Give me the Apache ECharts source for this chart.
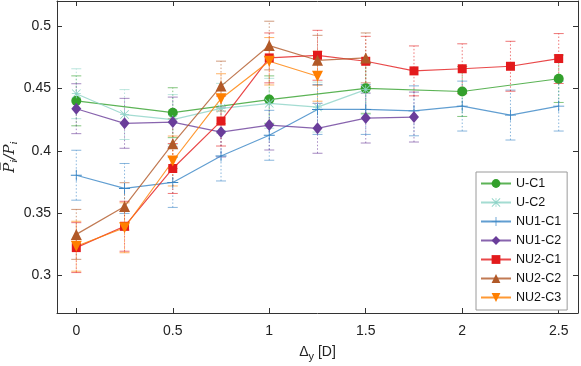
<!DOCTYPE html>
<html>
<head>
<meta charset="utf-8">
<script src="https://cdn.jsdelivr.net/npm/echarts@6/dist/echarts.min.js"></script>
<style>
  html, body { margin: 0; padding: 0; background: #fff; }
  #main { width: 581px; height: 366px; }
</style>
</head>
<body>
<div id="main"></div>
<script>
// x positions (Delta_y [D]) and mean values per configuration
const xU1 = [0, 0.5, 1, 1.5, 2, 2.5];
const yU1 = [0.440, 0.4305, 0.441, 0.450, 0.4475, 0.4577];
const eU1 = [0.02, 0.02, 0.019, 0.02, 0.02, 0.019];

const xU2 = [0, 0.25, 0.5, 0.75, 1, 1.25, 1.5];
const yU2 = [0.4457, 0.429, 0.425, 0.434, 0.438, 0.435, 0.449];
const eU2 = [0.02, 0.02, 0.02, 0.02, 0.02, 0.02, 0.02];

const xNU1C1 = [0, 0.25, 0.5, 0.75, 1, 1.25, 1.5, 1.75, 2, 2.25, 2.5];
const yNU1C1 = [0.3804, 0.3698, 0.3746, 0.3958, 0.4124, 0.4331, 0.4331, 0.432, 0.4358, 0.4286, 0.4358];
const eNU1C1 = [0.02, 0.02, 0.02, 0.02, 0.02, 0.02, 0.02, 0.02, 0.02, 0.02, 0.02];

const xNU1C2 = [0, 0.25, 0.5, 0.75, 1, 1.25, 1.5, 1.75];
const yNU1C2 = [0.4337, 0.422, 0.423, 0.415, 0.4206, 0.418, 0.4262, 0.427];
const eNU1C2 = [0.02, 0.02, 0.02, 0.02, 0.02, 0.02, 0.02, 0.02];

const xNU2C1 = [0, 0.25, 0.5, 0.75, 1, 1.25, 1.5, 1.75, 2, 2.25, 2.5];
const yNU2C1 = [0.3224, 0.3395, 0.3858, 0.4238, 0.4744, 0.4765, 0.4717, 0.464, 0.4657, 0.4677, 0.4739];
const eNU2C1 = [0.02, 0.02, 0.02, 0.02, 0.02, 0.02, 0.02, 0.02, 0.02, 0.02, 0.02];

const xNU2C2 = [0, 0.25, 0.5, 0.75, 1, 1.25, 1.5];
const yNU2C2 = [0.333, 0.3554, 0.4057, 0.4518, 0.4843, 0.4725, 0.4744];
const eNU2C2 = [0.02, 0.019, 0.02, 0.02, 0.0195, 0.02, 0.02];

const xNU2C3 = [0, 0.25, 0.5, 0.75, 1, 1.25];
const yNU2C3 = [0.3235, 0.3383, 0.3918, 0.4417, 0.4717, 0.4597];
const eNU2C3 = [0.02, 0.02, 0.02, 0.02, 0.019, 0.02];

const xTicks = [0, 0.5, 1, 1.5, 2, 2.5];
const yTicks = [0.3, 0.35, 0.4, 0.45, 0.5];

const plusPath = 'path://M4.6,0h0.8v10h-0.8zM0,4.6h10v0.8h-10z';
const starPath = 'path://M4.6,0h0.8v10h-0.8zM0,4.6h10v0.8h-10zM0.6,0L10,9.4L9.4,10L0,0.6zM9.4,0L10,0.6L0.6,10L0,9.4z';

const defs = [
  { name: 'U-C1', x: xU1, y: yU1, e: eU1, color: '#33a02c', symbol: 'circle', size: 10 },
  { name: 'U-C2', x: xU2, y: yU2, e: eU2, color: '#8dd3c7', symbol: starPath, size: 9 },
  { name: 'NU1-C1', x: xNU1C1, y: yNU1C1, e: eNU1C1, color: '#3a86c6', symbol: plusPath, size: 11 },
  { name: 'NU1-C2', x: xNU1C2, y: yNU1C2, e: eNU1C2, color: '#6a3d9a', symbol: 'diamond', size: [10, 12] },
  { name: 'NU2-C1', x: xNU2C1, y: yNU2C1, e: eNU2C1, color: '#e31a1c', symbol: 'rect', size: 9 },
  { name: 'NU2-C2', x: xNU2C2, y: yNU2C2, e: eNU2C2, color: '#b15928', symbol: 'triangle', size: 11 },
  { name: 'NU2-C3', x: xNU2C3, y: yNU2C3, e: eNU2C3, color: '#ff7f00', symbol: 'triangle', size: 11, rotate: 180 }
];

var series = [];
defs.forEach(function (d) {
  series.push({
    type: 'custom',
    z: 1,
    silent: true,
    data: d.x.map(function (v, i) { return [v, d.y[i], d.e[i]]; }),
    renderItem: function (params, api) {
      var x = api.value(0), y = api.value(1), e = api.value(2);
      var lo = api.coord([x, y - e]);
      var hi = api.coord([x, y + e]);
      var st = { stroke: d.color, lineWidth: 1, opacity: 0.6 };
      return {
        type: 'group',
        children: [
          { type: 'line', shape: { x1: lo[0], y1: lo[1], x2: hi[0], y2: hi[1] },
            style: Object.assign({ lineDash: [1.5, 2] }, st) },
          { type: 'line', shape: { x1: lo[0] - 5, y1: lo[1], x2: lo[0] + 5, y2: lo[1] }, style: st },
          { type: 'line', shape: { x1: hi[0] - 5, y1: hi[1], x2: hi[0] + 5, y2: hi[1] }, style: st }
        ]
      };
    }
  });
  series.push({
    name: d.name,
    type: 'line',
    z: 3,
    data: d.x.map(function (v, i) { return [v, d.y[i]]; }),
    symbol: d.symbol,
    symbolSize: d.size,
    symbolRotate: d.rotate || 0,
    showAllSymbol: true,
    color: d.color,
    itemStyle: { color: d.color, opacity: 1 },
    lineStyle: { color: d.color, width: 1.2, opacity: 0.8 },
    emphasis: { disabled: true }
  });
});

var axisCol = '#333';
var myChart = echarts.init(document.getElementById('main'));
var option = {
  animation: false,
  textStyle: { fontFamily: 'Liberation Sans, Arial, sans-serif' },
  grid: { left: 57, right: 3, top: 1, bottom: 53, outerBoundsMode: 'none', containLabel: false },
  legend: {
    data: defs.map(function (d) { return d.name; }),
    orient: 'vertical',
    left: 476,
    top: 172,
    padding: [5, 6, 6, 4],
    itemWidth: 30,
    itemHeight: 11,
    itemGap: 6,
    backgroundColor: '#fff',
    borderColor: '#9a9a9a',
    borderWidth: 1,
    textStyle: { fontSize: 12.5, color: '#111', fontFamily: 'Liberation Sans, Arial, sans-serif' }
  },
  xAxis: [
    {
      type: 'value', min: -0.1, max: 2.6, position: 'bottom',
      name: '{d|Δ}{s|y}{d| [D]}',
      nameLocation: 'middle', nameGap: 30,
      nameTextStyle: {
        rich: {
          d: { fontSize: 14, color: '#222', fontFamily: 'Liberation Sans, Arial, sans-serif' },
          s: { fontSize: 11, color: '#222', verticalAlign: 'bottom', padding: [8, 0, 0, 0], fontFamily: 'Liberation Sans, Arial, sans-serif' }
        }
      },
      axisLine: { onZero: false, lineStyle: { color: axisCol, width: 1 } },
      axisTick: { inside: true, length: 5, customValues: xTicks, lineStyle: { color: axisCol } },
      axisLabel: { customValues: xTicks, fontSize: 14, color: '#222', margin: 11 },
      splitLine: { show: false }
    },
    {
      type: 'value', min: -0.1, max: 2.6, position: 'top',
      axisLine: { onZero: false, lineStyle: { color: axisCol, width: 1 } },
      axisTick: { inside: true, length: 5, customValues: xTicks, lineStyle: { color: axisCol } },
      axisLabel: { show: false },
      splitLine: { show: false }
    }
  ],
  yAxis: [
    {
      type: 'value', min: 0.27, max: 0.52, position: 'left',
      name: '{p|P\u0305}{s|i}{p|/P}{s|i}',
      nameLocation: 'middle', nameGap: 38, nameMoveOverlap: false,
      nameTextStyle: {
        rich: {
          p: { fontSize: 15, fontStyle: 'italic', color: '#222', fontFamily: 'DejaVu Serif, serif' },
          s: { fontSize: 10, fontStyle: 'italic', color: '#222', verticalAlign: 'bottom', padding: [7, 0, 0, 0], fontFamily: 'DejaVu Serif, serif' }
        }
      },
      axisLine: { onZero: false, lineStyle: { color: axisCol, width: 1 } },
      axisTick: { inside: true, length: 5, customValues: yTicks, lineStyle: { color: axisCol } },
      axisLabel: { customValues: yTicks, fontSize: 14, color: '#222', margin: 6 },
      splitLine: { show: false }
    },
    {
      type: 'value', min: 0.27, max: 0.52, position: 'right',
      axisLine: { onZero: false, lineStyle: { color: axisCol, width: 1 } },
      axisTick: { inside: true, length: 5, customValues: yTicks, lineStyle: { color: axisCol } },
      axisLabel: { show: false },
      splitLine: { show: false }
    }
  ],
  series: series
};

option && myChart.setOption(option);
</script>
</body>
</html>
